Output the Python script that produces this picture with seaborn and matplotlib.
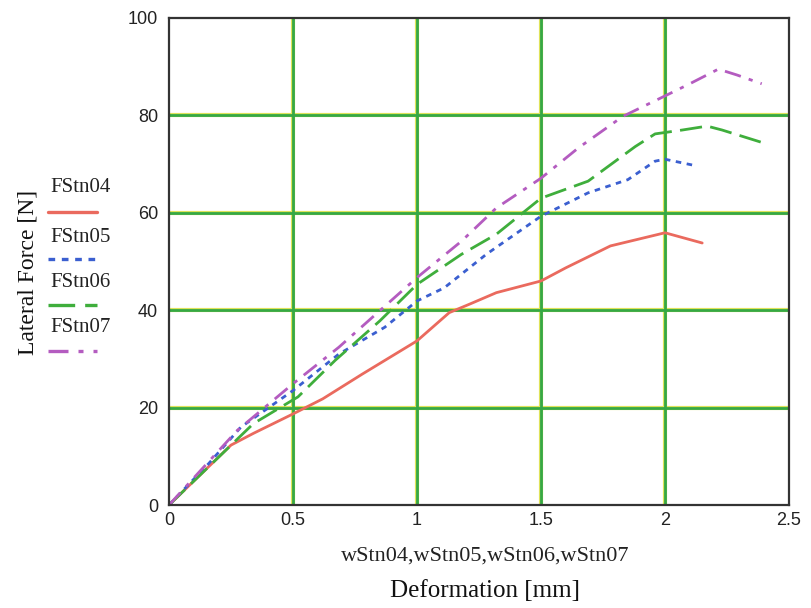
import numpy as np
import pandas as pd
import matplotlib
matplotlib.use("Agg")
import matplotlib.pyplot as plt
import seaborn as sns
from matplotlib.lines import Line2D

# ---- data ----
w04 = [0, 0.25, 0.34, 0.50, 0.62, 0.78, 1.00, 1.13, 1.21, 1.32, 1.50, 1.60, 1.78, 2.00, 2.15]
f04 = [0, 12.3, 14.7, 18.7, 21.8, 26.9, 33.7, 39.5, 41.2, 43.6, 46.0, 48.7, 53.2, 55.9, 53.8]

w05 = [0, 0.16, 0.29, 0.50, 0.685, 0.87, 1.00, 1.11, 1.28, 1.50, 1.69, 1.85, 1.96, 2.00, 2.13]
f05 = [0, 8.5, 16.0, 23.5, 31.0, 36.5, 41.9, 44.6, 51.5, 59.3, 64.1, 66.8, 70.6, 71.0, 69.6]

w06 = [0, 0.34, 0.52, 0.67, 0.85, 1.00, 1.18, 1.32, 1.50, 1.69, 1.88, 1.96, 2.07, 2.17, 2.23, 2.40]
f06 = [0, 16.7, 22.2, 29.7, 37.8, 45.3, 51.5, 55.6, 63.0, 66.5, 73.6, 76.2, 77.0, 77.8, 77.0, 74.3]

w07 = [0, 0.275, 0.50, 0.685, 0.85, 1.00, 1.18, 1.32, 1.50, 1.65, 1.83, 2.00, 2.10, 2.215, 2.29, 2.39]
f07 = [0, 15.3, 24.9, 32.4, 39.9, 46.7, 54.2, 61.0, 67.1, 73.3, 79.8, 84.0, 86.5, 89.5, 88.3, 86.5]

series_names = ["FStn04", "FStn05", "FStn06", "FStn07"]
x_ticks = [0, 0.5, 1, 1.5, 2, 2.5]
y_ticks = [0, 20, 40, 60, 80, 100]

colors = ["#ea6a5e", "#3b5fd0", "#3fae3c", "#b45cc0"]
dashes = [(None, None), (2, 2), (8, 3), (6, 3, 1.5, 3)]

sns.set_theme(style="white")
plt.rcParams["font.family"] = ["Liberation Sans Narrow", "Liberation Sans", "DejaVu Sans"]

fig = plt.figure(figsize=(8.11, 6.08), dpi=100)
L, R, T, B = 169, 789, 18, 505
ax = fig.add_axes([L/811, 1-B/608, (R-L)/811, (B-T)/608])

frames = []
for name, w, f in zip(series_names, [w04, w05, w06, w07], [f04, f05, f06, f07]):
    frames.append(pd.DataFrame({"w": w, "F": f, "series": name}))
df = pd.concat(frames, ignore_index=True)

for name, col, ds in zip(series_names, colors, dashes):
    sub = df[df["series"] == name]
    sns.lineplot(data=sub, x="w", y="F", ax=ax, color=col, lw=2.0,
                 sort=False, estimator=None, legend=False)
    l = ax.lines[-1]
    if ds[0] is not None:
        l.set_dashes(ds)

ax.set_xlim(0, 2.5)
ax.set_ylim(0, 100)
ax.set_xticks(x_ticks)
ax.set_xticklabels([f"{t:g}" for t in x_ticks])
ax.set_yticks(y_ticks)
ax.set_yticklabels([f"{t:g}" for t in y_ticks])

# grid: thin yellow edge + green core
for t in x_ticks[1:-1]:
    ax.axvline(t, color="#dfe35a", lw=3.0, zorder=0.5)
    ax.axvline(t, color="#35a845", lw=2.0, zorder=0.6)
for t in y_ticks[1:-1]:
    ax.axhline(t, color="#dfe35a", lw=3.0, zorder=0.5)
    ax.axhline(t, color="#35a845", lw=2.0, zorder=0.6)

for s in ax.spines.values():
    s.set_color("#333333")
    s.set_linewidth(1.6)

ax.tick_params(axis="both", length=0, labelsize=13, colors="#222222")
ax.tick_params(axis="x", pad=5)
ax.tick_params(axis="y", pad=8)
ax.set_xlabel("")
ax.set_ylabel("")

# axis titles
fig.text(28/811, 1-272/608, "Lateral Force [N]", rotation=90, ha="center", va="center",
         fontsize=17, family=["Liberation Serif"], color="#111111")
fig.text(485/811, 1-556/608, "wStn04,wStn05,wStn06,wStn07", ha="center", va="center",
         fontsize=16, family=["Liberation Serif"], color="#222222")
fig.text(485/811, 1-591/608, "Deformation [mm]", ha="center", va="center",
         fontsize=18, family=["Liberation Serif"], color="#111111")

# legend (label above sample line), left of axes
text_y = [187, 238, 282, 327]
line_y = [212, 259, 305, 351]
for name, col, ds, ty, ly in zip(series_names, colors, dashes, text_y, line_y):
    fig.text(50/811, 1-ty/608, name, ha="left", va="center", fontsize=15,
             family=["Liberation Serif"], color="#222222")
    ln = Line2D([48/811, 97/811], [1-ly/608, 1-ly/608], transform=fig.transFigure,
                color=col, lw=2.4)
    if ds[0] is not None:
        ln.set_dashes(ds)
    fig.add_artist(ln)

fig.savefig("out.png", dpi=100, facecolor="white")
